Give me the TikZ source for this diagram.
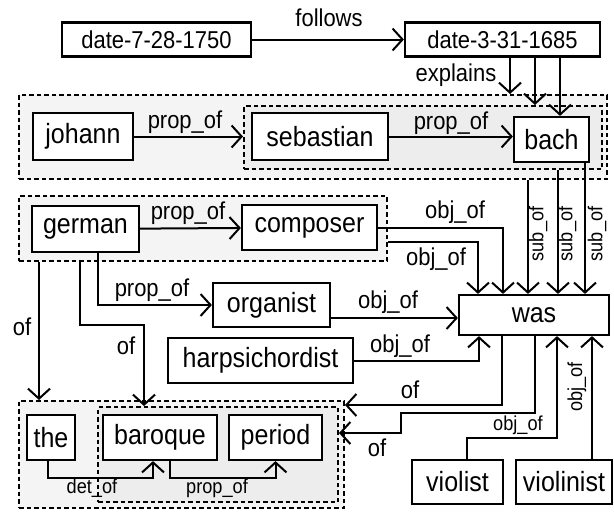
\documentclass[tikz,border=0pt]{standalone}
\usepackage{fontspec}
\setmainfont{Liberation Sans}[FakeStretch=0.9]
\usetikzlibrary{arrows.meta}
\definecolor{grpouter}{HTML}{F4F4F4}
\definecolor{grpinner}{HTML}{EDEDED}
\begin{document}
\begin{tikzpicture}[x=1pt,y=-1pt,
  box/.style={draw, line width=2.2pt, fill=white, inner sep=0pt, anchor=center, font=\fontsize{27.8}{30}\selectfont},
  datebox/.style={box, font=\fontsize{24.4}{26}\selectfont},
  grp/.style={draw, line width=2pt, dash pattern=on 4.5pt off 3pt, inner sep=0pt, anchor=center},
  lbl/.style={inner sep=0pt, font=\fontsize{24.4}{26}\selectfont},
  slbl/.style={inner sep=0pt, font=\fontsize{20.2}{22}\selectfont},
  edge/.style={line width=2pt, -{Straight Barb[length=10pt,width=22pt]}}]
\useasboundingbox (0,0) rectangle (614,512);
% groups
\node[grp, fill=grpouter, minimum width=588, minimum height=84] (g1o) at (313,137) {};
\node[grp, fill=grpinner, minimum width=358, minimum height=63] (g1i) at (423,137.5) {};
\node[grp, fill=grpouter, minimum width=368, minimum height=65] (g2) at (203,228.5) {};
\node[grp, fill=grpouter, minimum width=325, minimum height=107] (g3o) at (181.5,454.5) {};
\node[grp, fill=grpinner, minimum width=240, minimum height=95] (g3i) at (218,454.5) {};
% nodes
\node[datebox, minimum width=189, minimum height=34] (d1) at (156.5,39.5) {date-7-28-1750};
\node[datebox, minimum width=195, minimum height=34] (d2) at (502.5,39.5) {date-3-31-1685};
\node[box, minimum width=100, minimum height=47] (johann) at (83,136.5) {johann};
\node[box, minimum width=136, minimum height=47] (sebastian) at (320,136.5) {sebastian};
\node[box, minimum width=75, minimum height=45] (bach) at (551.5,139.5) {bach};
\node[box, minimum width=107, minimum height=46] (german) at (85.5,229) {german};
\node[box, minimum width=135, minimum height=45] (composer) at (309.5,227.5) {composer};
\node[box, minimum width=117, minimum height=44] (organist) at (271.5,305) {organist};
\node[box, minimum width=185, minimum height=45] (harp) at (260.5,360.5) {harpsichordist};
\node[box, minimum width=150, minimum height=40] (was) at (534,315) {was};
\node[box, minimum width=48, minimum height=45] (the) at (51,437.5) {the};
\node[box, minimum width=114, minimum height=45] (baroque) at (160,437.5) {baroque};
\node[box, minimum width=93, minimum height=45] (period) at (275.5,437.5) {period};
\node[box, minimum width=91, minimum height=44] (violist) at (457.5,482) {violist};
\node[box, minimum width=96, minimum height=44] (violinist) at (564,482) {violinist};
% helper coordinates
\coordinate (xa) at (510,0);
\coordinate (xb) at (535,0);
\coordinate (xc) at (560,0);
\coordinate (xs1) at (528,0);
\coordinate (xs2) at (558,0);
\coordinate (xs3) at (585,0);
\coordinate (xo1) at (503,0);
\coordinate (xo2) at (478,0);
\coordinate (yo2) at (0,242);
\coordinate (xg) at (98,0);
\coordinate (xl) at (39,0);
\coordinate (kA) at (80,325);
\coordinate (kB) at (144,325);
\coordinate (yO) at (0,318);
\coordinate (xH) at (479,0);
\coordinate (kC) at (502,405);
\coordinate (kD) at (535,413);
\coordinate (kE) at (401,413);
\coordinate (kF) at (401,433);
\coordinate (kG) at (467,438);
\coordinate (kH) at (557,438);
\coordinate (xv) at (592,0);
\coordinate (kI) at (48,478);
\coordinate (kJ) at (153,478);
\coordinate (kK) at (170,478);
\coordinate (kL) at (275.5,478);
% edges
\draw[edge] (d1) -- (d2);
\draw[edge] (d2.south -| xa) -- (g1o.north -| xa);
\draw[edge] (d2.south -| xb) -- (g1i.north -| xb);
\draw[edge] (d2.south -| xc) -- (bach.north -| xc);
\draw[edge] (johann.east) -- (johann.east -| g1i.west);
\draw[edge] (sebastian.east) -- (sebastian.east -| bach.west);
\draw[edge] (g1o.south -| xs1) -- (was.north -| xs1);
\draw[edge] (g1i.south -| xs2) -- (was.north -| xs2);
\draw[edge] (bach.south -| xs3) -- (was.north -| xs3);
\draw[edge] (german) -- (composer);
\draw[edge] (composer.east) -| (was.north -| xo1);
\draw[edge] (g2.east |- yo2) -| (was.north -| xo2);
\draw[edge] (german.south -| xg) |- (organist.west);
\draw[edge] (g2.south -| xl) -- (g3o.north -| xl);
\draw[edge] (g2.south -| kA) -- (kA) -- (kB) -- (g3i.north -| kB);
\draw[edge] (organist.east |- yO) -- (was.west |- yO);
\draw[edge] (harp.east) -| (was.south -| xH);
\draw[edge] (was.south -| kC) -- (kC) -- (g3o.east |- kC);
\draw[edge] (was.south -| kD) -- (kD) -- (kE) -- (kF) -- (g3i.east |- kF);
\draw[edge] (violist.north -| kG) -- (kG) -- (kH) -- (was.south -| kH);
\draw[edge] (violinist.north -| xv) -- (was.south -| xv);
\draw[edge] (the.south -| kI) -- (kI) -- (kJ) -- (baroque.south -| kJ);
\draw[edge] (baroque.south -| kK) -- (kK) -- (kL) -- (period.south -| kL);
% labels
\node[lbl] (lfollows) at (329,18) {follows};
\node[lbl] (lexplains) at (456,75) {explains};
\node[lbl] (lp1) at (185,122) {prop\_of};
\node[lbl] (lp2) at (451,123) {prop\_of};
\node[slbl, rotate=90] (ls1) at (538,234) {sub\_of};
\node[slbl, rotate=90] (ls2) at (567,234) {sub\_of};
\node[slbl, rotate=90] (ls3) at (597,234) {sub\_of};
\node[lbl] (lp3) at (188,213) {prop\_of};
\node[lbl] (lo1) at (455,212) {obj\_of};
\node[lbl] (lo2) at (436,259) {obj\_of};
\node[lbl] (lp4) at (152,290) {prop\_of};
\node[lbl] (lo3) at (388,302) {obj\_of};
\node[lbl] (lo4) at (400,346) {obj\_of};
\node[lbl] (lof1) at (22,327) {of};
\node[lbl] (lof2) at (126,346) {of};
\node[lbl] (lof3) at (410,390) {of};
\node[lbl] (lof4) at (377,448) {of};
\node[slbl] (lo5) at (518,425) {obj\_of};
\node[slbl, rotate=90] (lo6) at (577,387) {obj\_of};
\node[slbl] (ldet) at (92,488) {det\_of};
\node[slbl] (lp5) at (217,488) {prop\_of};
\end{tikzpicture}
\end{document}
